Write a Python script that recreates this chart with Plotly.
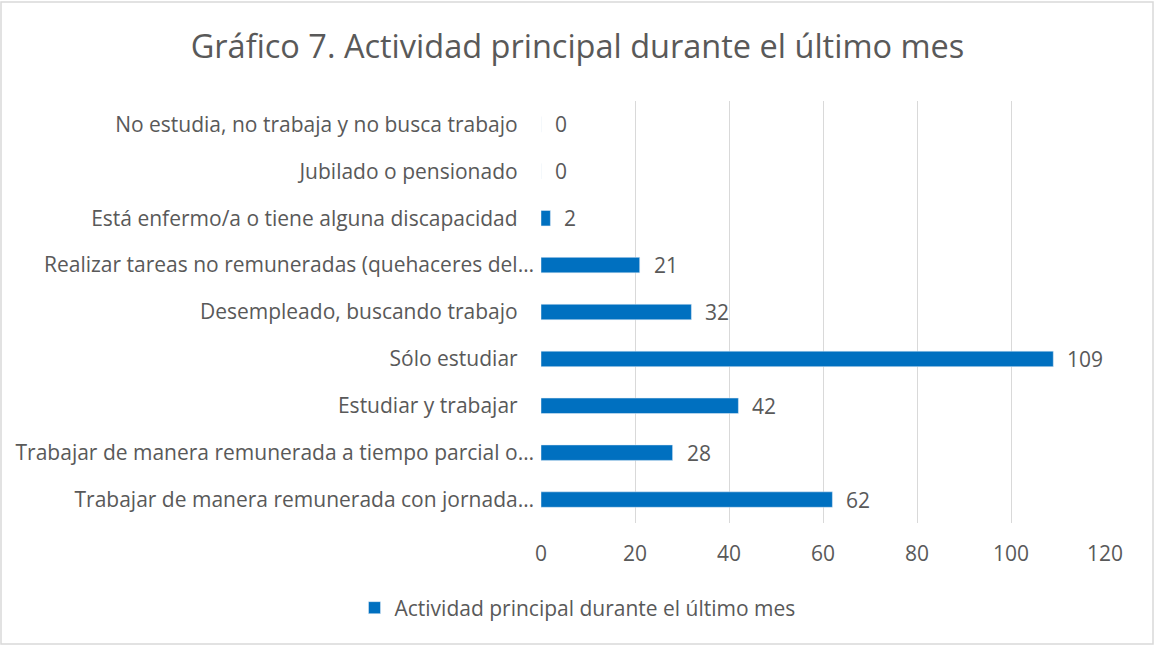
import plotly.graph_objects as go

categories = [
    "Trabajar de manera remunerada con jornada…",
    "Trabajar de manera remunerada a tiempo parcial o…",
    "Estudiar y trabajar",
    "Sólo estudiar",
    "Desempleado, buscando trabajo",
    "Realizar tareas no remuneradas (quehaceres del…",
    "Está enfermo/a o tiene alguna discapacidad",
    "Jubilado o pensionado",
    "No estudia, no trabaja y no busca trabajo",
]
values = [62, 28, 42, 109, 32, 21, 2, 0, 0]
series_name = "Actividad principal durante el último mes"
title_text = "Gráfico 7. Actividad principal durante el último mes"
x_ticks = [0, 20, 40, 60, 80, 100, 120]

FONT = "Open Sans"
GREY = "#595959"
BLUE = "#0070C0"
FS = 21

tick_text = [c if c.endswith("…") else c + "\u00a0\u00a0\u00a0" for c in categories]

fig = go.Figure()
fig.add_trace(go.Bar(
    y=categories, x=values, orientation="h",
    marker=dict(color=BLUE), width=0.33,
    name=series_name, showlegend=True,
))

for c, v in zip(categories, values):
    fig.add_annotation(x=v, y=c, text=str(v), showarrow=False,
                       xanchor="left", xshift=12,
                       font=dict(family=FONT, size=FS, color=GREY))

W, H = 1155, 646
L, R, T, B = 541, 50, 101, 123
pw, ph = W - L - R, H - T - B
fig.add_shape(type="rect", xref="paper", yref="paper",
              x0=(1 - L) / pw, x1=(W - 2 - L) / pw,
              y0=-(B - 2) / ph, y1=1 + (T - 2) / ph,
              line=dict(color="#D9D9D9", width=1.5), layer="below")

fig.update_layout(
    width=W, height=H,
    margin=dict(l=L, r=R, t=T, b=B),
    paper_bgcolor="white", plot_bgcolor="white",
    title=dict(text=title_text, x=0.5, xref="container", xanchor="center",
               y=1 - 47 / H, yref="container", yanchor="middle",
               font=dict(family=FONT, size=32.5, color=GREY)),
    font=dict(family=FONT, color=GREY, size=FS),
    xaxis=dict(range=[0, 120], tickvals=x_ticks, showgrid=True,
               gridcolor="#D9D9D9", gridwidth=1, zeroline=False,
               showline=False, ticklabelstandoff=16,
               tickfont=dict(family=FONT, size=FS, color=GREY)),
    yaxis=dict(categoryorder="array", categoryarray=categories,
               tickvals=categories, ticktext=tick_text,
               showgrid=False, zeroline=False, showline=False,
               ticklabelstandoff=6,
               range=[-0.5, len(categories) - 0.5],
               tickfont=dict(family=FONT, size=FS, color=GREY)),
    legend=dict(orientation="h", xref="container", yref="container",
                x=0.5, xanchor="center", y=1 - 608 / H, yanchor="middle",
                font=dict(family=FONT, size=FS, color=GREY),
                itemwidth=30),
    bargap=0.67,
)

fig.write_html("out.html", config={"displayModeBar": False},
               post_script="document.body.style.margin='0';document.body.style.overflow='hidden';")
